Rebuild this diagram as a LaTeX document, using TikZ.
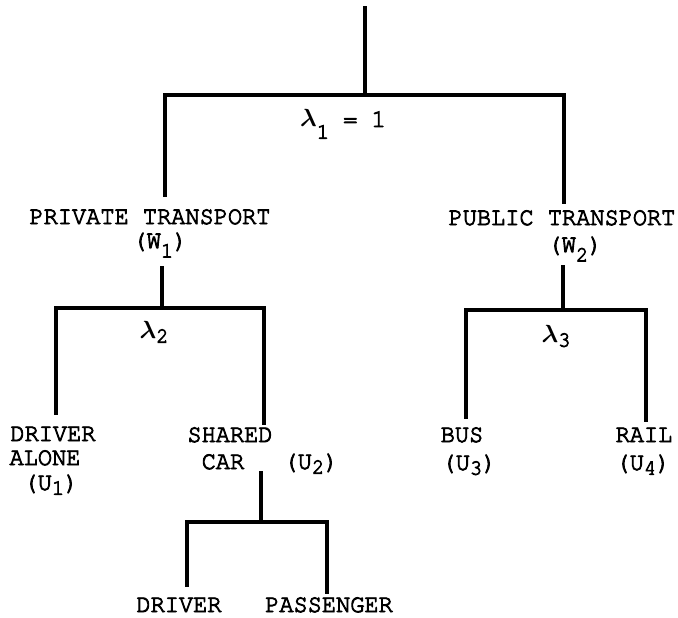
\documentclass[tikz,border=0pt]{standalone}
\usepackage{fontspec}
\newfontfamily\typew[FakeBold=3.5,FakeStretch=0.93]{TeX Gyre Cursor}
\newcommand\mysub[2][0.45ex]{\raisebox{-#1}{\fontsize{22}{22}\selectfont #2}}
\newcommand\mylam{{\fontsize{30}{30}\selectfont\boldmath$\lambda$}}
\begin{document}
\begin{tikzpicture}[x=1bp,y=-1bp,
  lbl/.style={inner sep=0pt,anchor=base,font=\typew\fontsize{25.5}{28}\selectfont},
  br/.style={line width=3.2bp,line cap=rect}]
\useasboundingbox (0,0) rectangle (678,618);
% labels
\node[lbl] (lam1) at (343,127) {\mylam\mysub[1.1ex]{1} = 1};
\node[lbl] (priv) at (150,224) {PRIVATE TRANSPORT};
\node[lbl] (w1) at (160,248) {(W\mysub[0.9ex]{1})};
\node[lbl] (pub) at (562,225) {PUBLIC TRANSPORT};
\node[lbl] (w2) at (575,252) {(W\mysub[0.9ex]{2})};
\node[lbl] (lam2) at (154,338) {\mylam\mysub{2}};
\node[lbl] (lam3) at (556,342) {\mylam\mysub{3}};
\node[lbl] (da1) at (53,441) {DRIVER};
\node[lbl] (da2) at (45,465) {ALONE};
\node[lbl] (u1) at (51,490) {(U\mysub{1})};
\node[lbl] (sc1) at (230,442) {SHARED};
\node[lbl] (sc2) at (223,469) {CAR};
\node[lbl] (u2) at (311,469) {(U\mysub{2})};
\node[lbl] (bus) at (462,442) {BUS};
\node[lbl] (u3) at (469,470) {(U\mysub{3})};
\node[lbl] (rail) at (644,442) {RAIL};
\node[lbl] (u4) at (643,470) {(U\mysub{4})};
\node[lbl] (drv) at (179,612) {DRIVER};
\node[lbl] (pas) at (329,612) {PASSENGER};
% junction coordinates
\coordinate (top) at (365,8);
\coordinate (j1) at (365,95);
\coordinate (a1) at (165,195);
\coordinate (b1) at (564,202);
\coordinate (t2) at (162,268);
\coordinate (j2) at (162,308);
\coordinate (a2) at (56,413);
\coordinate (b2) at (264,423);
\coordinate (t3) at (563,267);
\coordinate (j3) at (563,310);
\coordinate (a3) at (466,417);
\coordinate (b3) at (646,420);
\coordinate (t4) at (261,473);
\coordinate (j4) at (261,522);
\coordinate (a4) at (187,585);
\coordinate (b4) at (327,592);
% connectors
\draw[br] (top) -- (j1);
\draw[br] (a1) |- (j1) -| (b1);
\draw[br] (t2) -- (j2);
\draw[br] (a2) |- (j2) -| (b2);
\draw[br] (t3) -- (j3);
\draw[br] (a3) |- (j3) -| (b3);
\draw[br] (t4) -- (j4);
\draw[br] (a4) |- (j4) -| (b4);
\end{tikzpicture}
\end{document}
